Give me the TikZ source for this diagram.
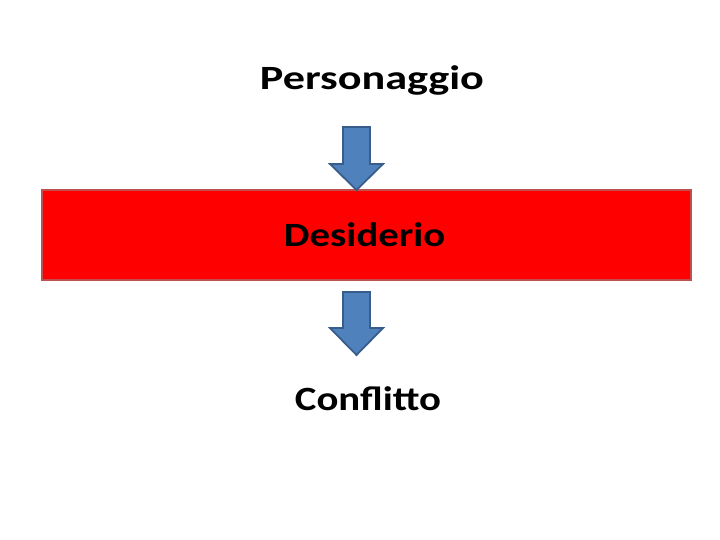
\documentclass[tikz,border=0pt]{standalone}
\usepackage{fontspec}
\setmainfont{Carlito}
\definecolor{arrowfill}{HTML}{4F81BD}
\definecolor{arrowline}{HTML}{385D8A}
\definecolor{boxline}{HTML}{C0504D}
\tikzset{
  blockarrow/.style={fill=arrowfill, draw=arrowline, line width=1.8pt, line join=miter},
  redbox/.style={fill=red, draw=boxline, line width=2.5pt},
  label/.style={font=\fontsize{34}{40}\selectfont\bfseries, anchor=base, inner sep=0pt}
}
\begin{document}
\begin{tikzpicture}[x=1pt,y=-1pt]
\useasboundingbox (0,0) rectangle (720,540);
\fill[white] (0,0) rectangle (720,540);
\node[redbox, minimum width=649pt, minimum height=90pt, inner sep=0pt] (box) at (366.5,235) {};
\node[label] (pers) at (372,89.3) {\scalebox{1.3}[1]{Personaggio}};
\node[label] (des) at (364.7,246.7) {\scalebox{1.2}[1]{Desiderio}};
\node[label] (conf) at (368,410) {\scalebox{1.2}[1]{Conflitto}};
\draw[blockarrow] (343,127) -- (370,127) -- (370,164) -- (383,164) -- (356.5,190) -- (330,164) -- (343,164) -- cycle;
\draw[blockarrow] (343,292) -- (370,292) -- (370,328) -- (383,328) -- (356.5,355) -- (330,328) -- (343,328) -- cycle;
\end{tikzpicture}
\end{document}
